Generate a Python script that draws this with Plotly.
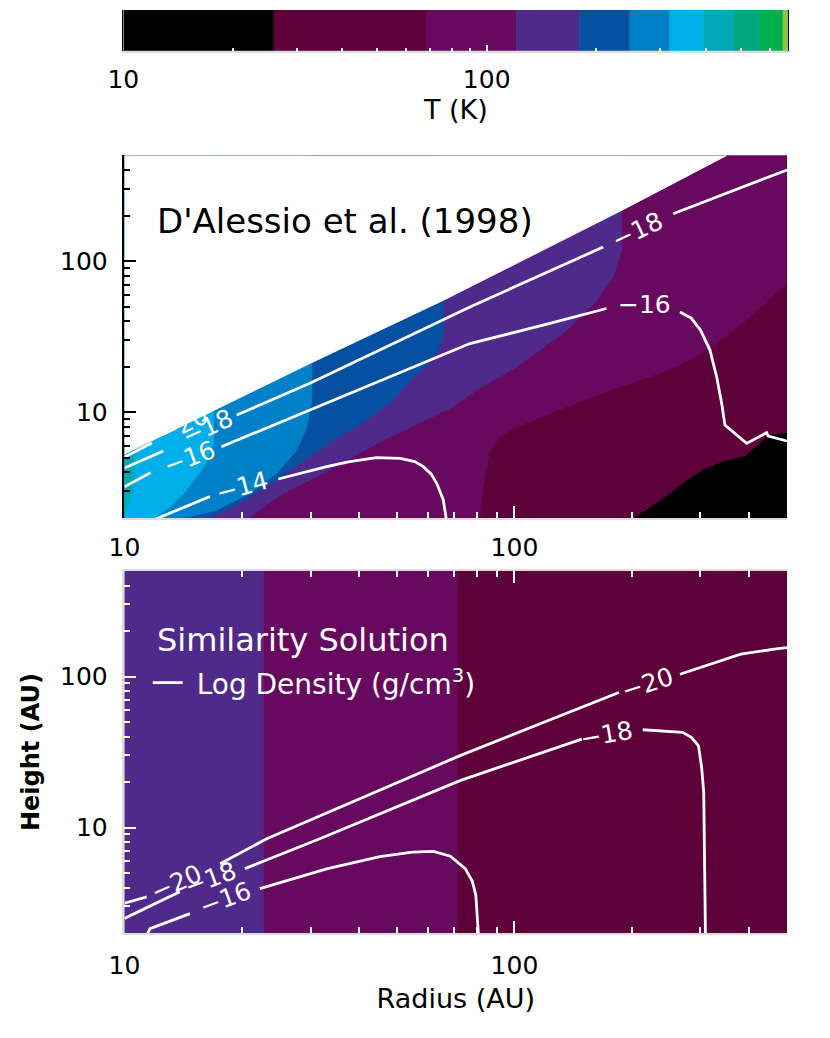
import numpy as np
import plotly.graph_objects as go

# colour bar: temperature levels (K) and the colour of each interval
T_LEVELS = [10, 25.9, 68.4, 120.4, 179.8, 246.9, 318, 394.5, 478.6, 564.6, 652.5, 676]
T_COLORS = ["#000000", "#5e003a", "#670a5f", "#4f2a8a", "#0550a0", "#0081c7",
            "#00aeea", "#00a9b5", "#00a57b", "#00b04f", "#8cc63f"]

R_RANGE = [10, 500]   # radius, AU
Z_RANGE = [2, 500]    # height, AU
TICK_MAJOR = [10, 100]
TICK_MINOR_R = [20, 30, 40, 50, 60, 70, 80, 90, 200, 300, 400]
TICK_MINOR_Z = [2, 3, 4, 5, 6, 7, 8, 9, 20, 30, 40, 50, 60, 70, 80, 90, 200, 300, 400]
TICK_MINOR_T = [20, 30, 40, 50, 60, 70, 80, 90, 200, 300, 400, 500, 600]

# --- D'Alessio et al. (1998) ---
# disk surface
SURF_R = [10, 29.9, 65.7, 188.3, 350]
SURF_Z = [5.30, 21.05, 55.1, 216.7, 500]

# isotherms: warm side is up/left of each curve
ISO_068_R = [500, 401.6, 330.0, 270.9, 222.6, 165.7, 123.3, 101.3, 91.8, 86.5, 84.0, 82.4, 81.6]
ISO_068_Z = [71.4, 42.8, 28.5, 21.05, 17.2, 13.3, 9.84, 8.02, 6.89, 5.63, 3.75, 2.63, 2.0]
ISO_120_R = [188.3, 188.3, 179.2, 162.5, 136.1, 101.3, 80.0, 68.3, 46.1, 31.08, 25.52, 20.98]
ISO_120_Z = [342, 117.9, 78.6, 55.1, 34.9, 20.0, 14.03, 10.62, 6.56, 3.75, 2.91, 2.04]
ISO_180_R = [65.7, 65.7, 63.8, 59.2, 54.0, 48.9, 41.74, 34.32, 28.2, 23.17, 19.0, 16.4]
ISO_180_Z = [87.0, 33.4, 25.8, 20.2, 16.3, 12.04, 8.89, 6.56, 4.60, 3.22, 2.38, 2.0]
ISO_247_R = [30.2, 30.2, 29.32, 27.64, 24.56, 20.98, 17.25, 14.15]
ISO_247_Z = [34.9, 12.04, 8.02, 5.63, 3.95, 2.91, 2.26, 2.0]
ISO_318_R = [16.9, 16.9, 16.09, 15.3, 14.29, 13.08, 11.86]
ISO_318_Z = [16.3, 6.23, 4.48, 3.75, 2.97, 2.38, 2.0]
ISO_394_R = [10.64, 10.64, 10.51, 10.27, 10.03]
ISO_394_Z = [6.56, 4.15, 3.06, 2.51, 2.33]
# coldest zone (T < 25.9 K), lower right
COLD_R = [203.7, 245.6, 270.9, 304.9, 343.1, 390.0, 417.8, 452.0, 500]
COLD_Z = [2.0, 2.77, 3.39, 4.15, 4.71, 5.09, 5.92, 7.07, 7.26]

# log density contours (None = gap left for the label)
D98_M20_R = [10, 11.76]
D98_M20_Z = [5.06, 6.27]
D98_M18_R = [10, 12.58, None, 19.4, 29.9, 76.9, 168.9, None, 255.4, 500]
D98_M18_Z = [4.28, 5.54, None, 9.59, 15.55, 49.8, 124.0, None, 206.0, 401]
D98_M16_R = [10, 11.67, None, 17.72, 34.26, 76.9, 123.3, 172.3, None, 265.7, 284.0, 300.0,
             317.2, 330.0, 339.9, 346.5, 393.9, 443.3, 447.5, 500]
D98_M16_Z = [3.21, 3.99, None, 5.92, 12.04, 28.5, 38.7, 48.6, None, 46.1, 42.0, 35.0,
             25.8, 17.2, 11.5, 8.24, 6.23, 7.33, 6.97, 6.46]
D98_M14_R = [11.63, 16.57, None, 24.8, 33.0, 37.8, 44.3, 50.9, 55.5, 58.4, 61.2, 63.2, 65.7, 67.0]
D98_M14_Z = [1.9, 2.77, None, 3.62, 4.37, 4.71, 5.01, 4.96, 4.72, 4.37, 3.90, 3.39, 2.63, 1.9]
D98_LABEL_TEXT = ["−20", "−18", "−16", "−14", "−18", "−16"]
D98_LABEL_R = [14.12, 16.28, 14.72, 20.1, 206.7, 215.4]
D98_LABEL_Z = [8.36, 7.99, 5.06, 3.21, 159.8, 51.9]
D98_LABEL_ANGLE = [-25, -24, -20, -15, -25, 0]

# --- similarity solution ---
SIM_EDGE_R = [10, 22.7, 71.4, 500]
SIM_BAND_LEVEL = [3, 2, 1]  # index into T_COLORS
SIM_M20_R = [10, 11.4, None, 17.58, 23.17, 72.5, 185.3, None, 265.7, 380.6, 473.9, 500]
SIM_M20_Z = [3.15, 3.47, None, 5.76, 8.43, 29.91, 78.45, None, 103.6, 140.5, 153.2, 155.5]
SIM_M18_R = [10, 13.86, None, 20.36, 31.69, 72.5, 148.9, None, 213.3, 269.8, 284.2,
             296.4, 302.0, 305.8, 308.7, 308.7]
SIM_M18_Z = [2.5, 3.76, None, 5.34, 8.43, 20.45, 38.5, None, 44.4, 42.7, 39.6,
             34.8, 25.0, 17.1, 2.25, 1.9]
SIM_M16_R = [11.42, 11.63, 14.72, None, 22.24, 33.16, 45.2, 54.7, 62.0, 68.5, 74.79, 78.0,
             79.62, 80.85, 80.85]
SIM_M16_Z = [1.95, 2.14, 2.69, None, 3.94, 5.34, 6.41, 6.88, 6.95, 6.45, 5.34, 4.40,
             3.56, 2.14, 1.95]
SIM_LABEL_TEXT = ["−20", "−18", "−16", "−20", "−18"]
SIM_LABEL_R = [13.63, 16.66, 18.2, 219.8, 172.0]
SIM_LABEL_Z = [4.31, 4.59, 3.38, 90.4, 41.6]
SIM_LABEL_ANGLE = [-24, -20, -20, -18, -10]

FONT = "DejaVu Sans"
GREY = "#dcdcdc"
GHOST = "#f0f0f0"

# bounds just outside the plotted ranges, used to close the filled areas
R_LO, R_HI = R_RANGE[0] * 0.8, R_RANGE[1] * 1.3
Z_LO, Z_HI = Z_RANGE[0] * 0.9, Z_RANGE[1] * 5


def area(r, z, color, xa, ya):
    return go.Scatter(x=r, y=z, xaxis=xa, yaxis=ya, mode="lines", fill="toself",
                      fillcolor=color, line=dict(color=color, width=1),
                      hoverinfo="skip", showlegend=False)


def contour(r, z, xa, ya, legend=False):
    return go.Scatter(x=r, y=z, xaxis=xa, yaxis=ya, mode="lines",
                      line=dict(color="white", width=2.8), connectgaps=False,
                      hoverinfo="skip", showlegend=legend,
                      name="\u00a0Log Density (g/cm<sup>3</sup>)")


fig = go.Figure()

# colour bar
for i, col in enumerate(T_COLORS):
    lo, hi = T_LEVELS[i], T_LEVELS[i + 1]
    fig.add_trace(area([lo, hi, hi, lo], [0, 0, 1, 1], col, "x3", "y3"))

# top panel: temperature zones
fig.add_trace(area([R_LO, R_HI, R_HI, R_LO], [Z_LO, Z_LO, Z_HI, Z_HI], T_COLORS[1], "x", "y"))
isotherms = [(ISO_068_R, ISO_068_Z, 2), (ISO_120_R, ISO_120_Z, 3), (ISO_180_R, ISO_180_Z, 4),
             (ISO_247_R, ISO_247_Z, 5), (ISO_318_R, ISO_318_Z, 6), (ISO_394_R, ISO_394_Z, 7)]
for r, z, k in isotherms:
    top_r = R_HI if r[0] >= R_RANGE[1] else r[0]
    fig.add_trace(area(r + [r[-1], R_LO, R_LO, top_r], z + [Z_LO, Z_LO, Z_HI, Z_HI],
                       T_COLORS[k], "x", "y"))
fig.add_trace(area(COLD_R + [R_HI, R_HI, COLD_R[0]], COLD_Z + [COLD_Z[-1], Z_LO, Z_LO],
                   T_COLORS[0], "x", "y"))
# empty space above the disk surface
fig.add_trace(area(SURF_R + [R_HI, R_LO, R_LO], SURF_Z + [Z_HI, Z_HI, SURF_Z[0]],
                   "white", "x", "y"))
for r, z in [(D98_M20_R, D98_M20_Z), (D98_M18_R, D98_M18_Z),
             (D98_M16_R, D98_M16_Z), (D98_M14_R, D98_M14_Z)]:
    fig.add_trace(contour(r, z, "x", "y"))

# bottom panel: similarity solution
for i, k in enumerate(SIM_BAND_LEVEL):
    lo = R_LO if i == 0 else SIM_EDGE_R[i]
    hi = R_HI if i == len(SIM_BAND_LEVEL) - 1 else SIM_EDGE_R[i + 1]
    fig.add_trace(area([lo, hi, hi, lo], [Z_LO, Z_LO, Z_HI, Z_HI], T_COLORS[k], "x2", "y2"))
fig.add_trace(contour(SIM_M20_R, SIM_M20_Z, "x2", "y2", legend=True))
fig.add_trace(contour(SIM_M18_R, SIM_M18_Z, "x2", "y2"))
fig.add_trace(contour(SIM_M16_R, SIM_M16_Z, "x2", "y2"))

annotations = []
for texts, rs, zs, angs, xr, yr in [
        (D98_LABEL_TEXT, D98_LABEL_R, D98_LABEL_Z, D98_LABEL_ANGLE, "x", "y"),
        (SIM_LABEL_TEXT, SIM_LABEL_R, SIM_LABEL_Z, SIM_LABEL_ANGLE, "x2", "y2")]:
    for t, r, z, a in zip(texts, rs, zs, angs):
        annotations.append(dict(x=np.log10(r), y=np.log10(z), xref=xr, yref=yr, text=t,
                                textangle=a, showarrow=False,
                                font=dict(family=FONT, size=25, color="white")))
annotations.append(dict(x=0.046, y=0.82, xref="x domain", yref="y domain",
                        text="D'Alessio et al. (1998)", showarrow=False,
                        xanchor="left", yanchor="middle",
                        font=dict(family=FONT, size=34, color="black")))
annotations.append(dict(x=0.046, y=0.81, xref="x2 domain", yref="y2 domain",
                        text="Similarity Solution", showarrow=False,
                        xanchor="left", yanchor="middle",
                        font=dict(family=FONT, size=32, color="white")))

tickfont = dict(family=FONT, size=25, color="black")
log_r = [np.log10(v) for v in R_RANGE]
log_z = [np.log10(v) for v in Z_RANGE]
log_t = [np.log10(T_LEVELS[0]), np.log10(T_LEVELS[-1])]


def axis(rng, domain=None, line="black", tick="black", labels=True, major=TICK_MAJOR,
         minor=TICK_MINOR_R, mlen=12, nlen=6, **kw):
    d = dict(type="log", range=rng, showline=True, linecolor=line, linewidth=1.5,
             ticks="inside", tickcolor=tick, ticklen=mlen, tickwidth=1.5,
             tickmode="array", tickvals=major, ticktext=[str(v) for v in major],
             minor=dict(tickmode="array", tickvals=minor, ticks="inside", ticklen=nlen,
                        tickcolor=tick, tickwidth=1.5),
             showticklabels=labels, tickfont=tickfont, showgrid=False, zeroline=False,
             fixedrange=True, automargin=False)
    if domain is not None:
        d["domain"] = domain
    d.update(kw)
    return d


ghostfont = dict(family=FONT, size=25, color=GHOST)
PANEL_X = [0.1417, 0.9477]
CBAR_X = [0.1403, 0.9493]

fig.update_layout(
    width=822, height=1030, autosize=False,
    margin=dict(l=0, r=0, t=0, b=0, autoexpand=False),
    paper_bgcolor="white", plot_bgcolor="white",
    font=dict(family=FONT, color="black"),
    showlegend=True,
    legend=dict(x=0.170, y=0.3447, xanchor="left", yanchor="middle",
                bgcolor="rgba(0,0,0,0)", font=dict(family=FONT, size=28, color="white"),
                itemwidth=30),
    annotations=annotations,
    # top panel
    xaxis=axis(log_r, PANEL_X, line=GREY, tick="white", anchor="y",
               ticklabelstandoff=6),
    yaxis=axis(log_z, [0.5049, 0.8568], minor=TICK_MINOR_Z, anchor="x", ticklabelstandoff=10),
    xaxis4=axis(log_r, labels=False, overlaying="x", side="top", anchor="y"),
    yaxis4=axis(log_z, line=GREY, tick="white", minor=TICK_MINOR_Z, overlaying="y",
                side="right", anchor="x", ticklabeloverflow="allow", ticklabelstandoff=10,
                tickfont=ghostfont),
    # bottom panel
    xaxis2=axis(log_r, PANEL_X, line=GREY, tick="white", anchor="y2", mirror="ticks",
                ticklabelstandoff=9,
                title=dict(text="Radius (AU)", standoff=10,
                           font=dict(family=FONT, size=27, color="black"))),
    yaxis2=axis(log_z, [0.1019, 0.4534], line=GREY, tick="white", minor=TICK_MINOR_Z,
                anchor="x2", ticklabelstandoff=10,
                title=dict(text="Height (AU)", standoff=14,
                           font=dict(family=FONT, size=24, color="black", weight="bold"))),
    yaxis5=axis(log_z, line=GREY, tick="white", minor=TICK_MINOR_Z, overlaying="y2",
                side="right", anchor="x2", ticklabeloverflow="allow", ticklabelstandoff=10,
                tickfont=ghostfont),
    # colour bar
    xaxis3=axis(log_t, CBAR_X, line=GREY, tick="white", minor=TICK_MINOR_T,
                mlen=6, nlen=3, anchor="y3", ticklabelstandoff=6,
                title=dict(text="T (K)", standoff=4,
                           font=dict(family=FONT, size=27, color="black"))),
    xaxis5=axis(log_t, labels=False, minor=TICK_MINOR_T, mlen=6, nlen=3,
                overlaying="x3", side="top", anchor="y3", linewidth=1),
    yaxis3=dict(range=[0, 1], domain=[0.9585, 0.9981], anchor="x3", showline=True,
                linecolor="black", linewidth=1, mirror=True, ticks="", showticklabels=False,
                showgrid=False, zeroline=False, fixedrange=True, automargin=False),
)

fig.write_html("out.html")
